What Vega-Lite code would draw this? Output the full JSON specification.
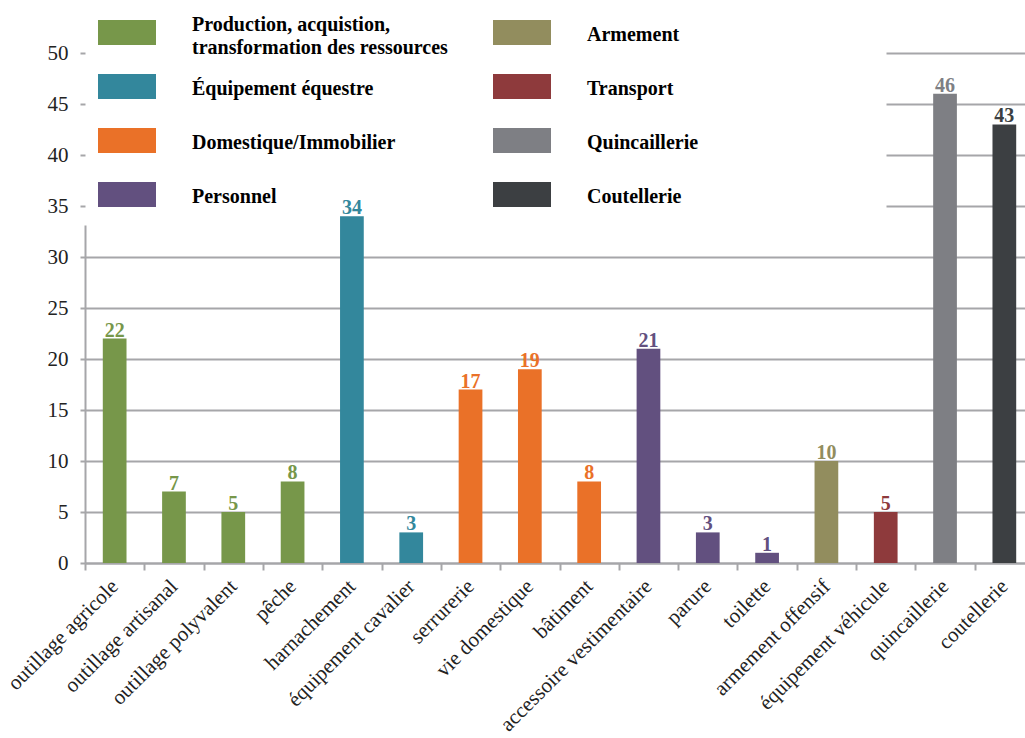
{
  "$schema": "https://vega.github.io/schema/vega-lite/v6.json",
  "width": 940,
  "height": 510,
  "autosize": {"type": "none"},
  "padding": {"left": 85, "top": 53, "right": 0, "bottom": 175},
  "background": "white",
  "config": {"view": {"stroke": null}, "font": "Liberation Serif"},
  "data": {
    "values": [
      {"categorie": "outillage agricole", "n": 22, "groupe": "Production, acquistion, transformation des ressources"},
      {"categorie": "outillage artisanal", "n": 7, "groupe": "Production, acquistion, transformation des ressources"},
      {"categorie": "outillage polyvalent", "n": 5, "groupe": "Production, acquistion, transformation des ressources"},
      {"categorie": "pêche", "n": 8, "groupe": "Production, acquistion, transformation des ressources"},
      {"categorie": "harnachement", "n": 34, "groupe": "Équipement équestre"},
      {"categorie": "équipement cavalier", "n": 3, "groupe": "Équipement équestre"},
      {"categorie": "serrurerie", "n": 17, "groupe": "Domestique/Immobilier"},
      {"categorie": "vie domestique", "n": 19, "groupe": "Domestique/Immobilier"},
      {"categorie": "bâtiment", "n": 8, "groupe": "Domestique/Immobilier"},
      {"categorie": "accessoire vestimentaire", "n": 21, "groupe": "Personnel"},
      {"categorie": "parure", "n": 3, "groupe": "Personnel"},
      {"categorie": "toilette", "n": 1, "groupe": "Personnel"},
      {"categorie": "armement offensif", "n": 10, "groupe": "Armement"},
      {"categorie": "équipement véhicule", "n": 5, "groupe": "Transport"},
      {"categorie": "quincaillerie", "n": 46, "groupe": "Quincaillerie"},
      {"categorie": "coutellerie", "n": 43, "groupe": "Coutellerie"}
    ]
  },
  "encoding": {
    "x": {
      "field": "categorie",
      "type": "nominal",
      "sort": null,
      "scale": {"range": [0, 949], "paddingInner": 0.6, "paddingOuter": 0.3},
      "axis": {
        "title": null,
        "labelAngle": -45,
        "labelAlign": "right",
        "labelBaseline": "middle",
        "labelFont": "Liberation Serif",
        "labelFontSize": 21,
        "labelColor": "#222222",
        "labelPadding": 13,
        "labelLimit": 400,
        "tickOffset": -29.65,
        "labelOffset": 29.65,
        "tickColor": "#a6a6a9",
        "tickWidth": 2,
        "tickSize": 7,
        "domainColor": "#a6a6a9",
        "domainWidth": 2,
        "grid": false
      }
    },
    "y": {
      "field": "n",
      "type": "quantitative",
      "scale": {"domain": [0, 50]},
      "axis": {
        "title": null,
        "values": [0, 5, 10, 15, 20, 25, 30, 35, 40, 45, 50],
        "grid": true,
        "gridColor": "#a6a6a9",
        "gridWidth": 2,
        "gridDash": {"condition": {"test": "datum.value >= 35", "value": [0, 801, 400, 0]}, "value": []},
        "domainColor": "#a6a6a9",
        "domainWidth": 2,
        "domainDash": [338, 400],
        "tickColor": "#a6a6a9",
        "tickWidth": 2,
        "tickSize": 5,
        "labelFont": "Liberation Serif",
        "labelFontSize": 21,
        "labelColor": "#222222",
        "labelPadding": 12
      }
    },
    "color": {
      "field": "groupe",
      "type": "nominal",
      "scale": {
        "domain": ["Production, acquistion, transformation des ressources", "Équipement équestre", "Domestique/Immobilier", "Personnel", "Armement", "Transport", "Quincaillerie", "Coutellerie"],
        "range": ["#77974a", "#33879c", "#ea7128", "#62507f", "#928d5e", "#8e3a3c", "#7e7f84", "#3c3f42"]
      },
      "legend": {
        "orient": "none",
        "legendX": 13,
        "legendY": -49.5,
        "columns": 2,
        "title": null,
        "padding": 0,
        "rowPadding": 0,
        "columnPadding": 45,
        "symbolType": "M0,0.86M-1,-0.43H1V0.43H-1Z",
        "symbolSize": 3364,
        "symbolStrokeWidth": 0,
        "symbolOpacity": 1,
        "labelFont": "Liberation Serif",
        "labelFontSize": 20,
        "labelFontWeight": "bold",
        "labelColor": "#000000",
        "labelOffset": 36,
        "labelLimit": 400,
        "labelExpr": "datum.label == 'Production, acquistion, transformation des ressources' ? ['Production, acquistion,', 'transformation des ressources'] : datum.label",
        "encode": {"labels": {"update": {
          "lineHeight": {"value": 23},
          "dy": {"signal": "datum.value == 'Production, acquistion, transformation des ressources' ? -8 : 2"}
        }}}
      }
    }
  },
  "layer": [
    {"mark": {"type": "bar"}},
    {
      "mark": {"type": "text", "baseline": "alphabetic", "dy": -2, "fontSize": 20, "fontWeight": "bold", "font": "Liberation Serif"},
      "encoding": {"text": {"field": "n", "type": "quantitative"}}
    }
  ]
}
